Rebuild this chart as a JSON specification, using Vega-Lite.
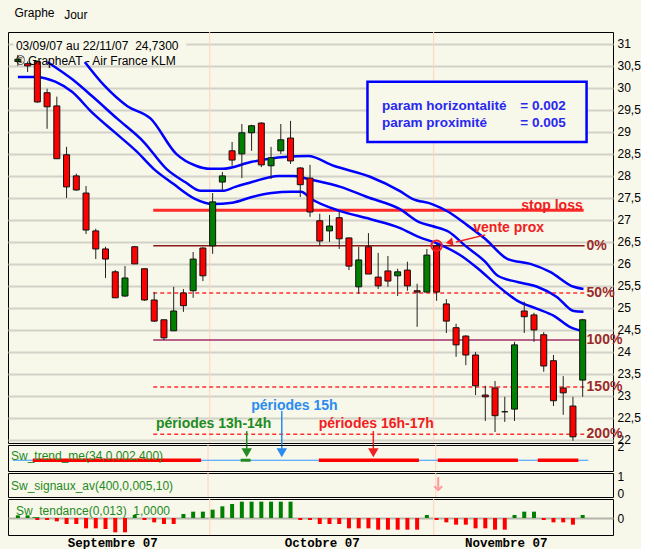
{
  "$schema": "https://vega.github.io/schema/vega-lite/v6.json",
  "padding": {"left": 7, "top": 6, "right": 0, "bottom": 0},
  "background": "#F7F7EA",
  "spacing": 2,
  "bounds": "flush",
  "config": {
    "axis": {"labelFont": "Liberation Sans", "labelFontSize": 12, "labelColor": "#000", "ticks": false, "domain": false},
    "view": {"stroke": "#000", "strokeWidth": 1},
    "text": {"font": "Liberation Sans"}
  },
  "datasets": {
    "candles": [
      {"i":0,"o":30.6,"h":30.75,"l":30.5,"c":30.65},
      {"i":1,"o":30.55,"h":30.6,"l":30.36,"c":30.5},
      {"i":2,"o":30.6,"h":30.62,"l":29.66,"c":29.68},
      {"i":3,"o":29.89,"h":29.98,"l":29.07,"c":29.57},
      {"i":4,"o":29.59,"h":29.8,"l":28.39,"c":28.39},
      {"i":5,"o":28.48,"h":28.66,"l":27.5,"c":27.75},
      {"i":6,"o":28.0,"h":28.05,"l":27.66,"c":27.68},
      {"i":7,"o":27.61,"h":27.77,"l":26.68,"c":26.77},
      {"i":8,"o":26.75,"h":26.8,"l":26.11,"c":26.34},
      {"i":9,"o":26.34,"h":26.39,"l":25.68,"c":26.11},
      {"i":10,"o":25.82,"h":25.86,"l":25.23,"c":25.23},
      {"i":11,"o":25.27,"h":25.95,"l":25.25,"c":25.68},
      {"i":12,"o":26.39,"h":26.41,"l":26.0,"c":26.0},
      {"i":13,"o":25.89,"h":25.89,"l":25.16,"c":25.18},
      {"i":14,"o":25.18,"h":25.36,"l":24.68,"c":24.7},
      {"i":15,"o":24.73,"h":24.73,"l":24.27,"c":24.32},
      {"i":16,"o":24.48,"h":25.48,"l":24.48,"c":24.93},
      {"i":17,"o":25.34,"h":25.43,"l":24.91,"c":25.05},
      {"i":18,"o":25.39,"h":26.27,"l":25.23,"c":26.11},
      {"i":19,"o":26.36,"h":26.38,"l":25.61,"c":25.73},
      {"i":20,"o":26.41,"h":27.61,"l":26.23,"c":27.41},
      {"i":21,"o":27.86,"h":28.09,"l":27.66,"c":28.0},
      {"i":22,"o":28.57,"h":28.77,"l":28.23,"c":28.36},
      {"i":23,"o":28.5,"h":29.18,"l":27.95,"c":28.98},
      {"i":24,"o":28.98,"h":29.16,"l":28.57,"c":29.14},
      {"i":25,"o":29.2,"h":29.22,"l":28.2,"c":28.25},
      {"i":26,"o":28.23,"h":28.66,"l":27.93,"c":28.41},
      {"i":27,"o":28.57,"h":29.18,"l":28.5,"c":28.82},
      {"i":28,"o":28.86,"h":29.25,"l":28.27,"c":28.34},
      {"i":29,"o":28.18,"h":28.2,"l":27.52,"c":27.8},
      {"i":30,"o":27.95,"h":28.25,"l":27.07,"c":27.18},
      {"i":31,"o":26.98,"h":27.14,"l":26.41,"c":26.52},
      {"i":32,"o":26.75,"h":27.11,"l":26.5,"c":26.86},
      {"i":33,"o":27.05,"h":27.2,"l":26.34,"c":26.57},
      {"i":34,"o":26.59,"h":26.6,"l":25.86,"c":25.95},
      {"i":35,"o":25.48,"h":26.39,"l":25.32,"c":26.09},
      {"i":36,"o":26.39,"h":26.7,"l":25.77,"c":25.77},
      {"i":37,"o":25.7,"h":26.25,"l":25.43,"c":25.5},
      {"i":38,"o":25.84,"h":26.18,"l":25.48,"c":25.61},
      {"i":39,"o":25.73,"h":25.89,"l":25.27,"c":25.82},
      {"i":40,"o":25.86,"h":26.05,"l":25.39,"c":25.5},
      {"i":41,"o":25.39,"h":25.55,"l":24.57,"c":25.36},
      {"i":42,"o":25.36,"h":26.34,"l":25.36,"c":26.2},
      {"i":43,"o":26.41,"h":26.45,"l":25.16,"c":25.36},
      {"i":44,"o":25.09,"h":25.2,"l":24.43,"c":24.7},
      {"i":45,"o":24.55,"h":24.64,"l":23.89,"c":24.16},
      {"i":46,"o":24.36,"h":24.38,"l":23.7,"c":23.93},
      {"i":47,"o":23.93,"h":24.0,"l":23.02,"c":23.23},
      {"i":48,"o":23.02,"h":23.23,"l":22.43,"c":22.98},
      {"i":49,"o":23.18,"h":23.34,"l":22.18,"c":22.55},
      {"i":50,"o":22.64,"h":22.98,"l":22.41,"c":22.64},
      {"i":51,"o":22.7,"h":24.23,"l":22.43,"c":24.16},
      {"i":52,"o":24.93,"h":25.14,"l":24.43,"c":24.8},
      {"i":53,"o":24.84,"h":24.89,"l":24.23,"c":24.5},
      {"i":54,"o":24.39,"h":24.45,"l":23.55,"c":23.68},
      {"i":55,"o":23.8,"h":23.93,"l":22.77,"c":22.89},
      {"i":56,"o":23.18,"h":23.45,"l":22.57,"c":23.07},
      {"i":57,"o":22.77,"h":22.98,"l":21.98,"c":22.07},
      {"i":58,"o":23.36,"h":24.75,"l":22.98,"c":24.73}
    ],
    "bands": [
      {"b":"A","i":6.87,"v":30.59},{"b":"A","i":8.89,"v":30.05},{"b":"A","i":11.21,"v":29.59},{"b":"A","i":13.64,"v":29.3},
      {"b":"A","i":16.26,"v":28.5},{"b":"A","i":18.28,"v":28.23},{"b":"A","i":19.7,"v":28.16},{"b":"A","i":21.01,"v":28.16},
      {"b":"A","i":24.04,"v":28.32},{"b":"A","i":27.37,"v":28.43},{"b":"A","i":29.8,"v":28.45},{"b":"A","i":32.42,"v":28.23},
      {"b":"A","i":36.16,"v":27.98},{"b":"A","i":39.19,"v":27.66},{"b":"A","i":40.51,"v":27.48},{"b":"A","i":42.53,"v":27.36},
      {"b":"A","i":44.24,"v":27.18},{"b":"A","i":45.96,"v":26.91},{"b":"A","i":47.98,"v":26.57},{"b":"A","i":50.3,"v":26.11},
      {"b":"A","i":52.63,"v":26.0},{"b":"A","i":54.65,"v":25.82},{"b":"A","i":57.07,"v":25.48},{"b":"A","i":58.08,"v":25.43},
      {"b":"B","i":3.03,"v":30.59},{"b":"B","i":5.56,"v":30.2},{"b":"B","i":7.58,"v":29.82},{"b":"B","i":10.2,"v":29.3},
      {"b":"B","i":12.93,"v":28.77},{"b":"B","i":15.25,"v":28.16},{"b":"B","i":17.17,"v":27.86},{"b":"B","i":18.79,"v":27.66},
      {"b":"B","i":21.01,"v":27.66},{"b":"B","i":22.32,"v":27.75},{"b":"B","i":24.04,"v":27.86},{"b":"B","i":26.77,"v":28.0},
      {"b":"B","i":28.38,"v":28.0},{"b":"B","i":29.8,"v":27.93},{"b":"B","i":33.13,"v":27.75},{"b":"B","i":35.86,"v":27.52},
      {"b":"B","i":39.19,"v":27.25},{"b":"B","i":41.21,"v":26.95},{"b":"B","i":42.53,"v":26.86},{"b":"B","i":44.24,"v":26.73},
      {"b":"B","i":45.96,"v":26.41},{"b":"B","i":47.98,"v":26.05},{"b":"B","i":49.29,"v":25.73},{"b":"B","i":51.31,"v":25.59},
      {"b":"B","i":53.33,"v":25.48},{"b":"B","i":55.35,"v":25.25},{"b":"B","i":57.07,"v":24.93},{"b":"B","i":58.08,"v":24.91},
      {"b":"C","i":0,"v":30.25},{"b":"C","i":1.82,"v":30.25},{"b":"C","i":3.84,"v":30.14},{"b":"C","i":5.56,"v":29.91},
      {"b":"C","i":7.58,"v":29.45},{"b":"C","i":9.9,"v":29.0},{"b":"C","i":12.22,"v":28.55},{"b":"C","i":13.94,"v":28.16},
      {"b":"C","i":15.96,"v":27.82},{"b":"C","i":18.18,"v":27.48},{"b":"C","i":20.0,"v":27.36},{"b":"C","i":22.02,"v":27.39},
      {"b":"C","i":24.04,"v":27.52},{"b":"C","i":26.06,"v":27.61},{"b":"C","i":28.08,"v":27.64},{"b":"C","i":29.09,"v":27.64},
      {"b":"C","i":30.1,"v":27.48},{"b":"C","i":33.13,"v":27.2},{"b":"C","i":36.16,"v":27.02},{"b":"C","i":39.19,"v":26.82},
      {"b":"C","i":41.21,"v":26.61},{"b":"C","i":43.23,"v":26.45},{"b":"C","i":45.56,"v":26.18},{"b":"C","i":47.27,"v":25.89},
      {"b":"C","i":49.29,"v":25.5},{"b":"C","i":51.31,"v":25.16},{"b":"C","i":53.33,"v":24.98},{"b":"C","i":55.05,"v":24.82},
      {"b":"C","i":56.67,"v":24.57},{"b":"C","i":57.88,"v":24.48}
    ],
    "levels": [
      {"name":"0%","v":26.41},{"name":"50%","v":25.34},{"name":"100%","v":24.27},{"name":"150%","v":23.2},{"name":"200%","v":22.13}
    ],
    "months": [{"m":19.7},{"m":42.7}],
    "trendRed": [{"s":2,"e":19},{"s":30.9,"e":41},{"s":42.9,"e":51},{"s":53,"e":57.1}],
    "tendance": [
      {"i":0,"v":0.8},{"i":1,"v":0.8},{"i":2,"v":-0.6},{"i":3,"v":-0.6},{"i":4,"v":-1.0},{"i":5,"v":-1.8},{"i":6,"v":-1.8},
      {"i":7,"v":-3.1},{"i":8,"v":-3.1},{"i":9,"v":-3.3},{"i":10,"v":-4.3},{"i":11,"v":-4.3},{"i":12,"v":0.9},{"i":13,"v":-0.6},
      {"i":14,"v":-1.3},{"i":15,"v":-1.8},{"i":16,"v":-1.8},{"i":17,"v":1.2},{"i":18,"v":1.9},{"i":19,"v":1.9},{"i":20,"v":2.5},
      {"i":21,"v":3.5},{"i":22,"v":4.2},{"i":23,"v":4.9},{"i":24,"v":4.9},{"i":25,"v":4.9},{"i":26,"v":4.9},{"i":27,"v":4.9},
      {"i":28,"v":4.9},{"i":29,"v":-0.6},{"i":30,"v":-0.6},{"i":31,"v":-1.8},{"i":32,"v":-1.8},{"i":33,"v":-1.8},{"i":34,"v":-3.1},
      {"i":35,"v":-3.1},{"i":36,"v":-3.1},{"i":37,"v":-3.5},{"i":38,"v":-3.5},{"i":39,"v":-3.5},{"i":40,"v":-3.5},{"i":41,"v":-3.5},
      {"i":42,"v":0.9},{"i":43,"v":-0.6},{"i":44,"v":-1.3},{"i":45,"v":-2.0},{"i":46,"v":-2.0},{"i":47,"v":-3.1},{"i":48,"v":-3.1},
      {"i":49,"v":-3.5},{"i":50,"v":-3.5},{"i":51,"v":0.9},{"i":52,"v":1.9},{"i":53,"v":1.9},{"i":54,"v":-0.6},{"i":55,"v":-1.3},
      {"i":56,"v":-1.3},{"i":57,"v":-2.0},{"i":58,"v":0.9}
    ]
  },
  "vconcat": [
    {
      "width": 605, "height": 411,
      "resolve": {"axis": {"x": "independent", "y": "independent"}},
      "layer": [
        {
          "data": {"values": [{}]},
          "mark": {"type": "rect", "fill": "#F7F7EA"},
          "encoding": {
            "x": {"datum": -0.45, "type": "quantitative", "scale": {"domain": [-0.5, 60.6], "nice": false, "zero": false}, "axis": null},
            "x2": {"datum": 17.3},
            "y": {"datum": 31.25, "type": "quantitative", "scale": {"domain": [21.93, 31.27], "nice": false, "zero": false}, "axis": null},
            "y2": {"datum": 30.58}
          }
        },
        {
          "data": {"name": "months"},
          "mark": {"type": "rule", "color": "#FFD3BE", "strokeWidth": 1},
          "encoding": {
            "x": {"field": "m", "type": "quantitative", "scale": {"domain": [-0.5, 60.6], "nice": false, "zero": false}, "axis": null}
          }
        },
        {
          "data": {"values": [{}]},
          "mark": {"type": "rule", "color": "#FF2A2A", "strokeWidth": 3},
          "encoding": {
            "x": {"datum": 13.9, "type": "quantitative", "scale": {"domain": [-0.5, 60.6], "nice": false, "zero": false}, "axis": null},
            "x2": {"datum": 58.1},
            "y": {"datum": 27.22, "type": "quantitative", "scale": {"domain": [21.93, 31.27], "nice": false, "zero": false}, "axis": null}
          }
        },
        {
          "data": {"name": "levels"},
          "transform": [{"filter": "datum.name == '0%' || datum.name == '100%'"}],
          "mark": {"type": "rule", "strokeWidth": 1.5},
          "encoding": {
            "x": {"datum": 13.9, "type": "quantitative", "scale": {"domain": [-0.5, 60.6], "nice": false, "zero": false}, "axis": null},
            "x2": {"datum": 58.2},
            "y": {"field": "v", "type": "quantitative", "scale": {"domain": [21.93, 31.27], "nice": false, "zero": false}, "axis": null},
            "color": {"condition": {"test": "datum.name == '0%'", "value": "#8B1A1A"}, "value": "#A0306A"}
          }
        },
        {
          "data": {"name": "levels"},
          "transform": [{"filter": "datum.name != '0%' && datum.name != '100%'"}],
          "mark": {"type": "rule", "strokeWidth": 1.5, "color": "#FF3030", "strokeDash": [4, 3]},
          "encoding": {
            "x": {"datum": 13.9, "type": "quantitative", "scale": {"domain": [-0.5, 60.6], "nice": false, "zero": false}, "axis": null},
            "x2": {"datum": 58.2},
            "y": {"field": "v", "type": "quantitative", "scale": {"domain": [21.93, 31.27], "nice": false, "zero": false}, "axis": null}
          }
        },
        {
          "data": {"name": "bands"},
          "mark": {"type": "line", "color": "#0000FF", "strokeWidth": 2.5, "interpolate": "monotone"},
          "encoding": {
            "x": {"field": "i", "type": "quantitative", "scale": {"domain": [-0.5, 60.6], "nice": false, "zero": false}, "axis": null},
            "y": {"field": "v", "type": "quantitative", "scale": {"domain": [21.93, 31.27], "nice": false, "zero": false}, "axis": null},
            "detail": {"field": "b", "type": "nominal"}
          }
        },
        {
          "data": {"name": "candles"},
          "mark": {"type": "rule", "color": "#222", "strokeWidth": 1},
          "encoding": {
            "x": {"field": "i", "type": "quantitative", "scale": {"domain": [-0.5, 60.6], "nice": false, "zero": false}, "axis": null},
            "y": {"field": "l", "type": "quantitative", "scale": {"domain": [21.93, 31.27], "nice": false, "zero": false},
                  "axis": {"orient": "right", "title": null, "values": [22,22.5,23,23.5,24,24.5,25,25.5,26,26.5,27,27.5,28,28.5,29,29.5,30,30.5,31],
                           "labelExpr": "replace(format(datum.value, '.1~f'), '.', ',')", "grid": true, "gridColor": "#D2D2C8", "gridWidth": 2, "labelPadding": 4}},
            "y2": {"field": "h"}
          }
        },
        {
          "data": {"name": "candles"},
          "mark": {"type": "bar", "width": 6, "stroke": "#111", "strokeWidth": 1},
          "encoding": {
            "x": {"field": "i", "type": "quantitative", "scale": {"domain": [-0.5, 60.6], "nice": false, "zero": false}, "axis": null},
            "y": {"field": "o", "type": "quantitative", "scale": {"domain": [21.93, 31.27], "nice": false, "zero": false}, "axis": null},
            "y2": {"field": "c"},
            "color": {"condition": {"test": "datum.c >= datum.o", "value": "#008000"}, "value": "#FF0000"}
          }
        },
        {
          "data": {"name": "levels"},
          "mark": {"type": "text", "align": "left", "baseline": "middle", "fontWeight": "bold", "fontSize": 14, "color": "#9B2A2A"},
          "encoding": {
            "x": {"datum": 58.4, "type": "quantitative", "scale": {"domain": [-0.5, 60.6], "nice": false, "zero": false}, "axis": null},
            "y": {"field": "v", "type": "quantitative", "scale": {"domain": [21.93, 31.27], "nice": false, "zero": false}, "axis": null},
            "text": {"field": "name"}
          }
        },
        {
          "data": {"values": [{}]},
          "mark": {"type": "rect", "fill": "#F7F7EA", "stroke": "#0000FF", "strokeWidth": 2.5},
          "encoding": {
            "x": {"datum": 35.9, "type": "quantitative", "scale": {"domain": [-0.5, 60.6], "nice": false, "zero": false}, "axis": null},
            "x2": {"datum": 58.4},
            "y": {"datum": 30.14, "type": "quantitative", "scale": {"domain": [21.93, 31.27], "nice": false, "zero": false}, "axis": null},
            "y2": {"datum": 28.77}
          }
        },
        {
          "data": {"values": [{"t": "param horizontalité", "col": 37.4, "row": 29.59}, {"t": "param proximité", "col": 37.4, "row": 29.2}, {"t": "= 0.002", "col": 51.6, "row": 29.59}, {"t": "= 0.005", "col": 51.6, "row": 29.2}]},
          "mark": {"type": "text", "align": "left", "fontWeight": "bold", "fontSize": 13.5, "color": "#2828F0"},
          "encoding": {
            "x": {"field": "col", "type": "quantitative", "scale": {"domain": [-0.5, 60.6], "nice": false, "zero": false}, "axis": null},
            "y": {"field": "row", "type": "quantitative", "scale": {"domain": [21.93, 31.27], "nice": false, "zero": false}, "axis": null},
            "text": {"field": "t"}
          }
        },
        {
          "data": {"values": [{"t": "stop loss", "col": 54.85, "row": 27.32, "k": "r"}, {"t": "vente prox", "col": 50.4, "row": 26.82, "k": "r"}, {"t": "périodes 16h-17h", "col": 36.8, "row": 22.36, "k": "r"}, {"t": "périodes 13h-14h", "col": 20.1, "row": 22.36, "k": "g"}, {"t": "périodes 15h", "col": 28.4, "row": 22.78, "k": "b"}]},
          "mark": {"type": "text", "align": "center", "fontWeight": "bold", "fontSize": 14},
          "encoding": {
            "x": {"field": "col", "type": "quantitative", "scale": {"domain": [-0.5, 60.6], "nice": false, "zero": false}, "axis": null},
            "y": {"field": "row", "type": "quantitative", "scale": {"domain": [21.93, 31.27], "nice": false, "zero": false}, "axis": null},
            "text": {"field": "t"},
            "color": {"field": "k", "type": "nominal", "scale": {"domain": ["r", "g", "b"], "range": ["#F02020", "#228B22", "#2A8CF0"]}, "legend": null}
          }
        },
        {
          "data": {"values": [{"x1": 48.0, "y1": 26.66, "x2": 45.0, "y2": 26.5, "k": "r"}, {"x1": 23.5, "y1": 22.2, "x2": 23.5, "y2": 21.8, "k": "g"}, {"x1": 27.1, "y1": 22.66, "x2": 27.1, "y2": 21.8, "k": "b"}, {"x1": 36.5, "y1": 22.2, "x2": 36.5, "y2": 21.8, "k": "r"}]},
          "mark": {"type": "rule", "strokeWidth": 1.5},
          "encoding": {
            "x": {"field": "x1", "type": "quantitative", "scale": {"domain": [-0.5, 60.6], "nice": false, "zero": false}, "axis": null},
            "x2": {"field": "x2"},
            "y": {"field": "y1", "type": "quantitative", "scale": {"domain": [21.93, 31.27], "nice": false, "zero": false}, "axis": null},
            "y2": {"field": "y2"},
            "color": {"field": "k", "type": "nominal", "scale": {"domain": ["r", "g", "b"], "range": ["#F02020", "#228B22", "#2A8CF0"]}, "legend": null}
          }
        },
        {
          "data": {"values": [{"col": 23.5, "row": 21.71, "k": "g"}, {"col": 27.1, "row": 21.71, "k": "b"}, {"col": 36.5, "row": 21.71, "k": "r"}]},
          "mark": {"type": "point", "shape": "triangle-down", "filled": true, "size": 110, "opacity": 1},
          "encoding": {
            "x": {"field": "col", "type": "quantitative", "scale": {"domain": [-0.5, 60.6], "nice": false, "zero": false}, "axis": null},
            "y": {"field": "row", "type": "quantitative", "scale": {"domain": [21.93, 31.27], "nice": false, "zero": false}, "axis": null},
            "color": {"field": "k", "type": "nominal", "scale": {"domain": ["r", "g", "b"], "range": ["#F02020", "#228B22", "#2A8CF0"]}, "legend": null}
          }
        },
        {
          "data": {"values": [{}]},
          "mark": {"type": "point", "shape": "triangle-up", "filled": true, "size": 70, "color": "#F02020", "opacity": 1, "angle": 259},
          "encoding": {
            "x": {"datum": 44.3, "type": "quantitative", "scale": {"domain": [-0.5, 60.6], "nice": false, "zero": false}, "axis": null},
            "y": {"datum": 26.49, "type": "quantitative", "scale": {"domain": [21.93, 31.27], "nice": false, "zero": false}, "axis": null}
          }
        },
        {
          "data": {"values": [{}]},
          "mark": {"type": "point", "shape": "circle", "filled": false, "size": 110, "color": "#F02020", "strokeWidth": 2, "opacity": 1},
          "encoding": {
            "x": {"datum": 43.0, "type": "quantitative", "scale": {"domain": [-0.5, 60.6], "nice": false, "zero": false}, "axis": null},
            "y": {"datum": 26.41, "type": "quantitative", "scale": {"domain": [21.93, 31.27], "nice": false, "zero": false}, "axis": null}
          }
        },
        {
          "data": {"values": [{"t": "03/09/07 au 22/11/07\u00a0\u00a024,7300", "col": -0.2, "row": 30.95}, {"t": "© GrapheAT - Air France KLM", "col": -0.2, "row": 30.61}, {"t": "Graphe", "col": -0.35, "row": 31.7}, {"t": "Jour", "col": 4.75, "row": 31.66}]},
          "mark": {"type": "text", "align": "left", "color": "#000", "fontSize": 12},
          "encoding": {
            "x": {"field": "col", "type": "quantitative", "scale": {"domain": [-0.5, 60.6], "nice": false, "zero": false}, "axis": null},
            "y": {"field": "row", "type": "quantitative", "scale": {"domain": [21.93, 31.27], "nice": false, "zero": false}, "axis": null},
            "text": {"field": "t"}
          }
        }
      ]
    },
    {
      "width": 605, "height": 26,
      "resolve": {"axis": {"x": "independent", "y": "independent"}},
      "layer": [
        {
          "data": {"name": "months"},
          "mark": {"type": "rule", "color": "#FFD3BE", "strokeWidth": 1},
          "encoding": {
            "x": {"field": "m", "type": "quantitative", "scale": {"domain": [-0.5, 60.6], "nice": false, "zero": false}, "axis": null}
          }
        },
        {
          "data": {"values": [{}]},
          "mark": {"type": "rule", "color": "#3399FF", "strokeWidth": 1.2},
          "encoding": {
            "x": {"datum": 0, "type": "quantitative", "scale": {"domain": [-0.5, 60.6], "nice": false, "zero": false}, "axis": null},
            "x2": {"datum": 58.1},
            "y": {"datum": 0.89, "type": "quantitative", "scale": {"domain": [0, 2.15], "nice": false, "zero": false},
                  "axis": {"orient": "right", "title": null, "values": [2], "format": "d", "grid": false, "labelPadding": 4}}
          }
        },
        {
          "data": {"name": "trendRed"},
          "mark": {"type": "rule", "color": "#FF0000", "strokeWidth": 3.5},
          "encoding": {
            "x": {"field": "s", "type": "quantitative", "scale": {"domain": [-0.5, 60.6], "nice": false, "zero": false}, "axis": null},
            "x2": {"field": "e"},
            "y": {"datum": 0.89, "type": "quantitative", "scale": {"domain": [0, 2.15], "nice": false, "zero": false}, "axis": null}
          }
        },
        {
          "data": {"values": [{}]},
          "mark": {"type": "rule", "color": "#228B22", "strokeWidth": 3},
          "encoding": {
            "x": {"datum": 23.0, "type": "quantitative", "scale": {"domain": [-0.5, 60.6], "nice": false, "zero": false}, "axis": null},
            "x2": {"datum": 24.0},
            "y": {"datum": 0.89, "type": "quantitative", "scale": {"domain": [0, 2.15], "nice": false, "zero": false}, "axis": null}
          }
        },
        {
          "data": {"values": [{"t": "Sw_trend_me(34,0,002,400)"}]},
          "mark": {"type": "text", "align": "left", "color": "#1E8A1E", "fontSize": 12},
          "encoding": {
            "x": {"datum": -0.2, "type": "quantitative", "scale": {"domain": [-0.5, 60.6], "nice": false, "zero": false}, "axis": null},
            "y": {"datum": 1.21, "type": "quantitative", "scale": {"domain": [0, 2.15], "nice": false, "zero": false}, "axis": null},
            "text": {"field": "t"}
          }
        }
      ]
    },
    {
      "width": 605, "height": 24,
      "resolve": {"axis": {"x": "independent", "y": "independent"}},
      "layer": [
        {
          "data": {"name": "months"},
          "mark": {"type": "rule", "color": "#FFD3BE", "strokeWidth": 1},
          "encoding": {
            "x": {"field": "m", "type": "quantitative", "scale": {"domain": [-0.5, 60.6], "nice": false, "zero": false}, "axis": null}
          }
        },
        {
          "data": {"values": [{}]},
          "mark": {"type": "rule", "color": "#FF9A9A", "strokeWidth": 2},
          "encoding": {
            "x": {"datum": 42.95, "type": "quantitative", "scale": {"domain": [-0.5, 60.6], "nice": false, "zero": false}, "axis": null},
            "y": {"datum": 0.94, "type": "quantitative", "scale": {"domain": [-0.17, 1.17], "nice": false, "zero": false},
                  "axis": {"orient": "right", "title": null, "values": [0, 1], "format": "d", "grid": false, "labelPadding": 4}},
            "y2": {"datum": 0.3}
          }
        },
        {
          "data": {"values": [{}]},
          "mark": {"type": "point", "shape": "M-1,-0.6L0,0.4L1,-0.6", "filled": false, "size": 60, "color": "#FF9A9A", "strokeWidth": 2, "opacity": 1},
          "encoding": {
            "x": {"datum": 42.95, "type": "quantitative", "scale": {"domain": [-0.5, 60.6], "nice": false, "zero": false}, "axis": null},
            "y": {"datum": 0.3, "type": "quantitative", "scale": {"domain": [-0.17, 1.17], "nice": false, "zero": false}, "axis": null}
          }
        },
        {
          "data": {"values": [{"t": "Sw_signaux_av(400,0,005,10)"}]},
          "mark": {"type": "text", "align": "left", "color": "#1E8A1E", "fontSize": 12},
          "encoding": {
            "x": {"datum": -0.2, "type": "quantitative", "scale": {"domain": [-0.5, 60.6], "nice": false, "zero": false}, "axis": null},
            "y": {"datum": 0.44, "type": "quantitative", "scale": {"domain": [-0.17, 1.17], "nice": false, "zero": false}, "axis": null},
            "text": {"field": "t"}
          }
        }
      ]
    },
    {
      "width": 605, "height": 36,
      "resolve": {"axis": {"x": "independent", "y": "independent"}},
      "layer": [
        {
          "data": {"name": "months"},
          "mark": {"type": "rule", "color": "#FFD3BE", "strokeWidth": 1},
          "encoding": {
            "x": {"field": "m", "type": "quantitative", "scale": {"domain": [-0.5, 60.6], "nice": false, "zero": false}, "axis": null}
          }
        },
        {
          "data": {"name": "tendance"},
          "mark": {"type": "bar", "width": 4},
          "encoding": {
            "x": {"field": "i", "type": "quantitative", "scale": {"domain": [-0.5, 60.6], "nice": false, "zero": false},
                  "axis": {"title": null, "values": [9.7, 31.2, 50.1], "labelExpr": "datum.value < 20 ? 'Septembre 07' : (datum.value < 40 ? 'Octobre 07' : 'Novembre 07')",
                           "grid": false, "labelFont": "Liberation Mono", "labelFontWeight": "bold", "labelFontSize": 12.5, "labelPadding": 1, "labelFlush": false, "labelOverlap": false}},
            "y": {"field": "v", "type": "quantitative", "scale": {"domain": [-5.1, 5.7], "nice": false, "zero": false},
                  "axis": {"orient": "right", "title": null, "values": [0], "format": "d", "grid": true, "gridColor": "#B4B4AA", "gridWidth": 2, "labelPadding": 4}},
            "y2": {"datum": 0},
            "color": {"condition": {"test": "datum.v > 0", "value": "#008000"}, "value": "#FF0000"}
          }
        },
        {
          "data": {"values": [{"t": "Sw_tendance(0,013)\u00a0\u00a01,0000"}]},
          "mark": {"type": "text", "align": "left", "color": "#1E8A1E", "fontSize": 12},
          "encoding": {
            "x": {"datum": -0.2, "type": "quantitative", "scale": {"domain": [-0.5, 60.6], "nice": false, "zero": false}, "axis": null},
            "y": {"datum": 2.1, "type": "quantitative", "scale": {"domain": [-5.1, 5.7], "nice": false, "zero": false}, "axis": null},
            "text": {"field": "t"}
          }
        }
      ]
    }
  ]
}
